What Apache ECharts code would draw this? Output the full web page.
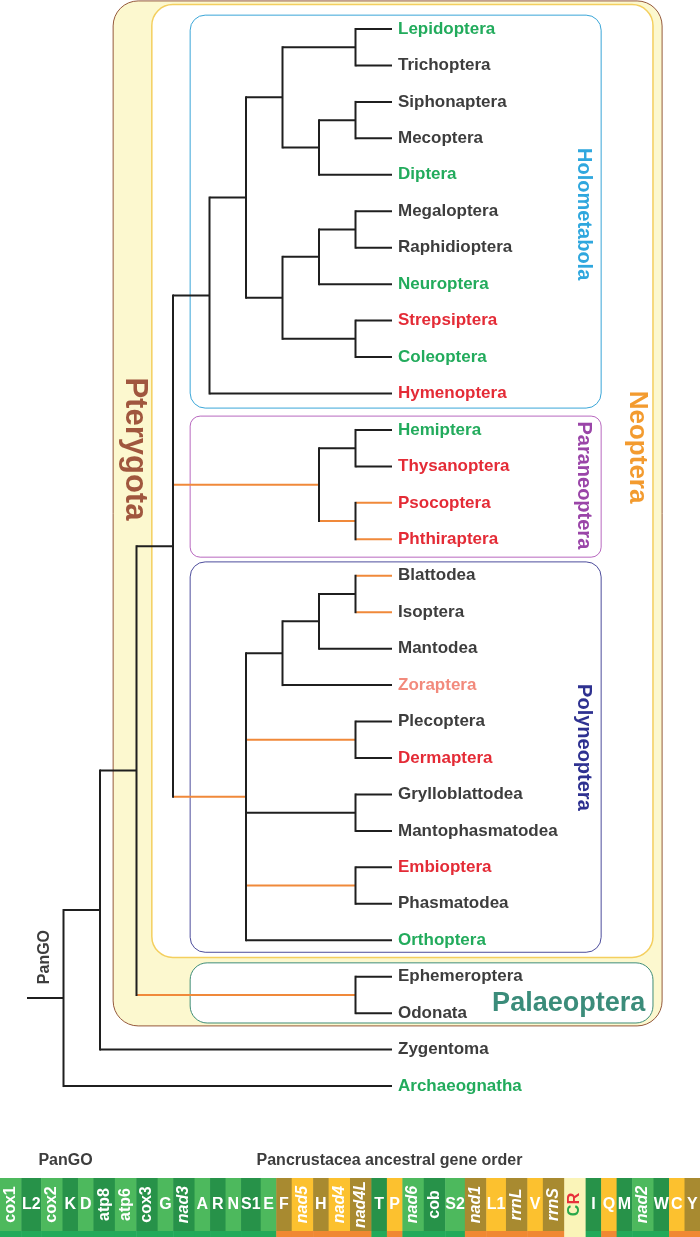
<!DOCTYPE html>
<html><head><meta charset="utf-8">
<script src="https://cdn.jsdelivr.net/npm/echarts@6/dist/echarts.min.js"></script>
<style>html,body{margin:0;padding:0;background:#fff}#c{width:700px;height:1237px}</style>
</head><body><div id="c"></div>
<script>
// ---------------- DATA ----------------
const leaves = ['Lepidoptera','Trichoptera','Siphonaptera','Mecoptera','Diptera','Megaloptera','Raphidioptera','Neuroptera','Strepsiptera','Coleoptera','Hymenoptera','Hemiptera','Thysanoptera','Psocoptera','Phthiraptera','Blattodea','Isoptera','Mantodea','Zoraptera','Plecoptera','Dermaptera','Grylloblattodea','Mantophasmatodea','Embioptera','Phasmatodea','Orthoptera','Ephemeroptera','Odonata','Zygentoma','Archaeognatha'];
// g = green, r = red, k = grey, s = salmon
const leafClass = ['g','k','k','k','g','k','k','g','r','g','r','g','r','r','r','k','k','k','s','k','r','k','k','r','k','g','k','k','k','g'];
const tipDepth = 10;
const rootStubDepth = 0;
// internal nodes, children listed before parents
const nodeNames = ['LT','SM','SMD','LTSMD','MR','MRN','SC','MRNSC','H1','Holometabola','HT','PP','Paraneoptera','BI','BIM','BIMZ','PD','GM','EP','Polyneoptera','Neoptera','EO','Pterygota','Dicondylia','Insecta'];
const nodeDepth = [9,9,8,7,9,8,9,7,6,5,9,9,8,9,8,7,9,9,9,6,4,9,3,2,1];
const nodeKids = [
  ['Lepidoptera','Trichoptera'],['Siphonaptera','Mecoptera'],['SM','Diptera'],['LT','SMD'],
  ['Megaloptera','Raphidioptera'],['MR','Neuroptera'],['Strepsiptera','Coleoptera'],['MRN','SC'],
  ['LTSMD','MRNSC'],['H1','Hymenoptera'],
  ['Hemiptera','Thysanoptera'],['Psocoptera','Phthiraptera'],['HT','PP'],
  ['Blattodea','Isoptera'],['BI','Mantodea'],['BIM','Zoraptera'],['Plecoptera','Dermaptera'],
  ['Grylloblattodea','Mantophasmatodea'],['Embioptera','Phasmatodea'],['BIMZ','PD','GM','EP','Orthoptera'],
  ['Holometabola','Paraneoptera','Polyneoptera'],['Ephemeroptera','Odonata'],['Neoptera','EO'],
  ['Pterygota','Zygentoma'],['Dicondylia','Archaeognatha']
];
const orangeBranches = ['Paraneoptera','PP','Psocoptera','Phthiraptera','Polyneoptera','Blattodea','Isoptera','PD','EP','EO'];
const rootLabel = 'PanGO';
const cladeNames = ['Pterygota','Neoptera','Holometabola','Paraneoptera','Polyneoptera','Palaeoptera'];
const cladeFirst = ['Lepidoptera','Lepidoptera','Lepidoptera','Hemiptera','Blattodea','Ephemeroptera'];
const cladeLast  = ['Odonata','Orthoptera','Hymenoptera','Phthiraptera','Orthoptera','Odonata'];

const geneTitle = 'PanGO';
const geneSubtitle = 'Pancrustacea ancestral gene order';
const geneNames = ['cox1','L2','cox2','K','D','atp8','atp6','cox3','G','nad3','A','R','N','S1','E','F','nad5','H','nad4','nad4L','T','P','nad6','cob','S2','nad1','L1','rrnL','V','rrnS','CR','I','Q','M','nad2','W','C','Y'];
// p = protein, t = tRNA, r = rRNA, c = control region
const geneKind = ['p','t','p','t','t','p','p','p','t','p','t','t','t','t','t','t','p','t','p','p','t','t','p','p','t','p','t','r','t','r','c','t','t','t','p','t','t','t'];
// J = majority strand, N = minority strand, - = none
const geneStrand = ['J','J','J','J','J','J','J','J','J','J','J','J','J','J','J','N','N','N','N','N','J','N','J','J','J','N','N','N','N','N','-','J','N','J','J','J','N','N'];
const geneTone = ['a','b','a','b','a','b','a','b','a','b','a','b','a','b','a','b','a','b','a','b','b','a','a','b','a','b','a','b','a','b','-','b','a','b','a','b','a','b'];

// ---------------- STYLE / LAYOUT ----------------
const FONT = '"Liberation Sans", Arial, Helvetica, sans-serif';
const LEAF_COLOR = {g:'#22ab5c', r:'#e42b36', k:'#3d3d3d', s:'#f28a7c'};
const BLACK = '#1f1f1f', ORANGE = '#f0893a';
const BOX = {
  Pterygota:   {x0:2.36, x1:17.40, padT:0.77, padB:0.35, r:25, fill:'#fcf8cf', stroke:'#95593c', lw:1},
  Neoptera:    {x0:3.42, x1:17.15, padT:0.67, padB:0.47, r:21, fill:'#ffffff', stroke:'#f4cf5e', lw:1.5},
  Holometabola:{x0:4.47, x1:15.73, padT:0.38, padB:0.40, r:15, fill:'#ffffff', stroke:'#3aa6d8', lw:1},
  Paraneoptera:{x0:4.47, x1:15.73, padT:0.38, padB:0.49, r:10, fill:'#ffffff', stroke:'#b868bf', lw:1},
  Polyneoptera:{x0:4.47, x1:15.73, padT:0.38, padB:0.33, r:15, fill:'#ffffff', stroke:'#4d4d9c', lw:1},
  Palaeoptera: {x0:4.47, x1:17.15, padT:0.38, padB:0.27, r:17, fill:'#ffffff', stroke:'#3f8d77', lw:1}
};
const LABEL = {
  Pterygota:   {x:2.96, y:11.52, size:31, color:'#a0573e', rot:-90},
  Neoptera:    {x:16.71, y:11.47, size:26, color:'#f39b2f', rot:-90},
  Holometabola:{x:15.25, y:5.08, size:20, color:'#2fa7de', rot:-90},
  Paraneoptera:{x:15.26, y:12.52, size:20, color:'#9a45a8', rot:-90},
  Polyneoptera:{x:15.24, y:19.71, size:20, color:'#2e3190', rot:-90},
  Palaeoptera: {x:14.84, y:26.75, size:27, color:'#3b8c7a', rot:0}
};
const CELL_W = {wide:21.4, two:19.7, one:15.5};
const STRIP = 0.102;
const GENE_COLOR = {Ja:'#4db95d', Jb:'#279249', Na:'#fcc12f', Nb:'#a88a30', '--':'#faf4b8'};
const STRIP_COLOR = {J:'#22aa5a', N:'#f08833', '-':'#faf4b8'};

// ---------------- BUILD ----------------
const pos = {};
leaves.forEach((n,i)=>{ pos[n] = {d: tipDepth, y: i}; });
nodeNames.forEach((n,k)=>{
  const ys = nodeKids[k].map(c=>pos[c].y);
  pos[n] = {d: nodeDepth[k], y: (Math.min(...ys)+Math.max(...ys))/2, y0: Math.min(...ys), y1: Math.max(...ys)};
});
const segs = [];
nodeNames.forEach((n,k)=>{
  const p = pos[n];
  segs.push([p.d, p.y0, p.d, p.y1, 0]);
  nodeKids[k].forEach(c=>{
    segs.push([p.d, pos[c].y, pos[c].d, pos[c].y, orangeBranches.includes(c)?1:0]);
  });
});
const rootNode = pos[nodeNames[nodeNames.length-1]];
segs.push([rootStubDepth, rootNode.y, rootNode.d, rootNode.y, 0]);

const geneW = geneNames.map((g,i)=> geneKind[i]==='t' ? (g.length>1?CELL_W.two:CELL_W.one) : CELL_W.wide);
const geneStart = []; let acc = 0;
geneW.forEach(w=>{ geneStart.push(acc); acc += w; });
const geneTotal = acc;

const chart = echarts.init(document.getElementById('c'), null, {renderer:'canvas'});
chart.setOption({
  backgroundColor:'#ffffff',
  animation:false,
  grid:[
    {left:27, top:29, width:18*36.5, height:29*36.45},
    {left:0, right:0, top:1178, height:59}
  ],
  xAxis:[
    {type:'value', min:0, max:18, show:false, gridIndex:0},
    {type:'value', min:0, max:geneTotal, show:false, gridIndex:1}
  ],
  yAxis:[
    {type:'value', min:0, max:29, inverse:true, show:false, gridIndex:0},
    {type:'value', min:0, max:1, show:false, gridIndex:1}
  ],
  graphic:[
    {type:'text', x:65.5, y:1161, style:{text:geneTitle, font:'bold 16px '+FONT, fill:'#3d3d3d', align:'center', verticalAlign:'middle'}},
    {type:'text', x:389.5, y:1161, style:{text:geneSubtitle, font:'bold 16px '+FONT, fill:'#3d3d3d', align:'center', verticalAlign:'middle'}}
  ],
  series:[
    { // clade boxes
      type:'custom', xAxisIndex:0, yAxisIndex:0, clip:false, z:1,
      data: cladeNames.map((n,i)=>[leaves.indexOf(cladeFirst[i]), leaves.indexOf(cladeLast[i]), i]),
      encode:{x:[], y:[0,1]},
      renderItem(params, api){
        const n = cladeNames[api.value(2)], b = BOX[n];
        const p0 = api.coord([b.x0, api.value(0)-b.padT]);
        const p1 = api.coord([b.x1, api.value(1)+b.padB]);
        return {type:'rect', shape:{x:p0[0], y:p0[1], width:p1[0]-p0[0], height:p1[1]-p0[1], r:b.r},
          style:{fill:b.fill, stroke:b.stroke, lineWidth:b.lw}};
      }
    },
    { // clade labels
      type:'custom', xAxisIndex:0, yAxisIndex:0, clip:false, z:3,
      data: cladeNames.map((n,i)=>[i]),
      encode:{x:[], y:[]},
      renderItem(params, api){
        const n = cladeNames[api.value(0)], l = LABEL[n];
        const p = api.coord([l.x, l.y]);
        return {type:'text', x:p[0], y:p[1], rotation:l.rot*Math.PI/180,
          style:{text:n, font:'bold '+l.size+'px '+FONT, fill:l.color, align:'center', verticalAlign:'middle'}};
      }
    },
    { // branches
      type:'custom', xAxisIndex:0, yAxisIndex:0, clip:false, z:4,
      data: segs, encode:{x:[0,2], y:[1,3]},
      renderItem(params, api){
        const a = api.coord([api.value(0), api.value(1)]);
        const b = api.coord([api.value(2), api.value(3)]);
        const vertical = Math.abs(a[0]-b[0])<0.01;
        return {type:'line', shape:{x1:a[0], y1:a[1], x2:b[0], y2:b[1]},
          style:{stroke: api.value(4)?ORANGE:BLACK, lineWidth:2, lineCap: vertical?'square':'butt'}, z2: vertical?2:1};
      }
    },
    { // leaf labels
      type:'custom', xAxisIndex:0, yAxisIndex:0, clip:false, z:5,
      data: leaves.map((n,i)=>[tipDepth, i]), encode:{x:[0], y:[1]},
      renderItem(params, api){
        const i = params.dataIndex;
        const p = api.coord([api.value(0), api.value(1)]);
        return {type:'text', x:p[0]+6, y:p[1],
          style:{text:leaves[i], font:'bold 17px '+FONT, fill:LEAF_COLOR[leafClass[i]], align:'left', verticalAlign:'middle'}};
      }
    },
    { // root label
      type:'custom', xAxisIndex:0, yAxisIndex:0, clip:false, z:5,
      data: [[rootStubDepth, rootNode.y]], encode:{x:[0], y:[1]},
      renderItem(params, api){
        const p = api.coord([api.value(0), api.value(1)]);
        return {type:'text', x:p[0]+18, y:p[1]-41, rotation:Math.PI/2,
          style:{text:rootLabel, font:'bold 16px '+FONT, fill:'#3d3d3d', align:'center', verticalAlign:'middle'}};
      }
    },
    { // gene cells
      type:'custom', xAxisIndex:1, yAxisIndex:1, clip:false, z:2,
      data: geneNames.map((g,i)=>[geneStart[i], geneStart[i]+geneW[i]]), encode:{x:[0,1], y:[]},
      renderItem(params, api){
        const i = params.dataIndex;
        const a = api.coord([api.value(0), 1]);
        const m = api.coord([api.value(1), STRIP]);
        const b = api.coord([api.value(1), 0]);
        const key = geneStrand[i]+geneTone[i];
        const cx = (a[0]+m[0])/2, cy = (a[1]+m[1])/2;
        const g = geneNames[i];
        const children = [
          {type:'rect', shape:{x:a[0], y:a[1], width:m[0]-a[0]+0.5, height:m[1]-a[1]}, style:{fill:GENE_COLOR[key]}},
          {type:'rect', shape:{x:a[0], y:m[1], width:b[0]-a[0]+0.5, height:b[1]-m[1]+1}, style:{fill:STRIP_COLOR[geneStrand[i]]}}
        ];
        if (geneKind[i]==='c') {
          children.push({type:'text', x:cx, y:cy+6, rotation:Math.PI/2, style:{text:g[0], font:'bold 16px '+FONT, fill:'#2aa84a', align:'center', verticalAlign:'middle'}});
          children.push({type:'text', x:cx, y:cy-6, rotation:Math.PI/2, style:{text:g[1], font:'bold 16px '+FONT, fill:'#e8303a', align:'center', verticalAlign:'middle'}});
        } else if (geneKind[i]==='t') {
          children.push({type:'text', x:cx, y:cy, style:{text:g, font:'bold 16px '+FONT, fill:'#ffffff', align:'center', verticalAlign:'middle'}});
        } else {
          const it = /^(nad|rrn)/.test(g) ? 'italic ' : '';
          children.push({type:'text', x:cx, y:cy, rotation:Math.PI/2, style:{text:g, font:it+'bold 16px '+FONT, fill:'#ffffff', align:'center', verticalAlign:'middle'}});
        }
        return {type:'group', children};
      }
    }
  ]
});
</script></body></html>
